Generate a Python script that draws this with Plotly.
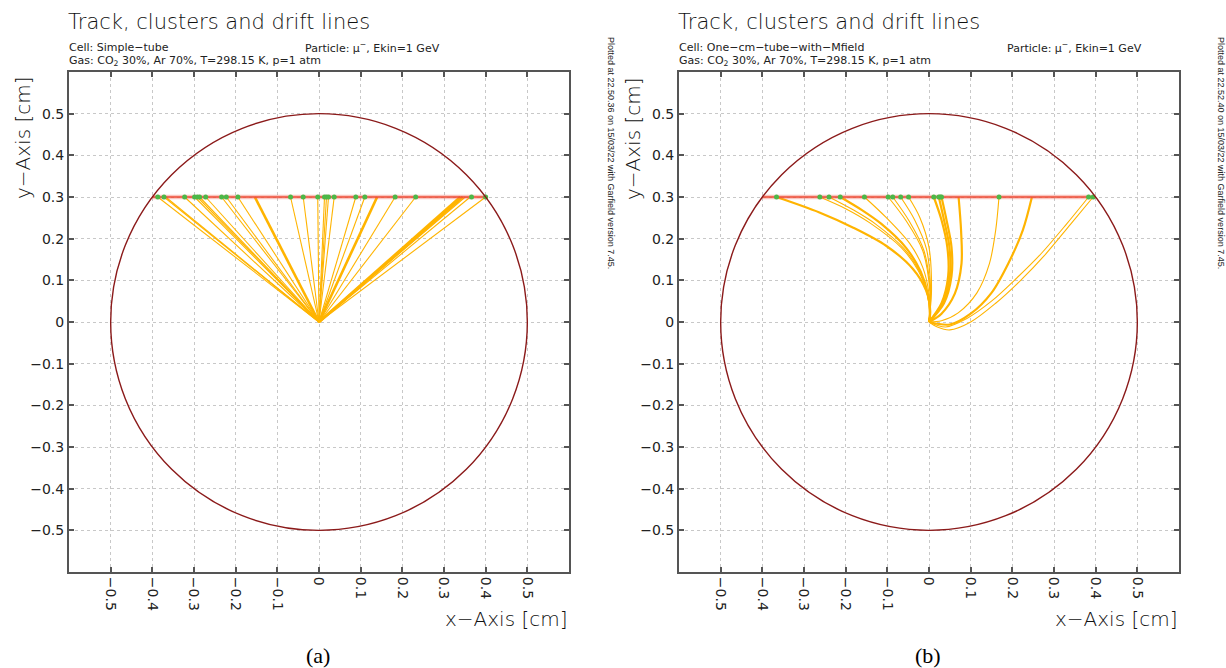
import plotly.graph_objects as go

# ---------------- data ----------------
tube_radius = 0.5
track_x = [-0.4, 0.4]
track_y = [0.3, 0.3]
wire_x = 0.0
wire_y = 0.0

tick_vals = [-0.5, -0.4, -0.3, -0.2, -0.1, 0.0, 0.1, 0.2, 0.3, 0.4, 0.5]
tick_text = ["\u22120.5", "\u22120.4", "\u22120.3", "\u22120.2", "\u22120.1", "0",
             "0.1", "0.2", "0.3", "0.4", "0.5"]

# (a) simple tube: cluster positions along the track and drift-line start points
clusters_a = [-0.387, -0.372, -0.3225, -0.2986, -0.292, -0.2866, -0.272, -0.2338,
              -0.2225, -0.1947, -0.0683, -0.0379, -0.003, 0.0132, 0.018, 0.0228,
              0.0365, 0.0883, 0.110, 0.1827, 0.232, 0.366, 0.400]
drift_thin_a = [-0.387, -0.372, -0.368, -0.3225, -0.2986, -0.292, -0.2866, -0.272,
                -0.2338, -0.2225, -0.1947, -0.0683, -0.0379, -0.003, 0.0132, 0.018,
                0.0228, 0.0365, 0.0883, 0.110, 0.1827, 0.232, 0.351, 0.363, 0.400]
drift_thick_a = [-0.154, 0.1395, 0.339, 0.345]

# (b) tube with magnetic field
clusters_b = [-0.366, -0.262, -0.240, -0.213, -0.155, -0.098, -0.087, -0.068,
              -0.049, 0.0115, 0.0235, 0.027, 0.030, 0.168, 0.383, 0.394]
drift_paths_b = [
    [(-0.366, 0.30), (-0.263, 0.263), (-0.183, 0.227), (-0.103, 0.183), (-0.039, 0.128), (-0.007, 0.076), (0.003, 0.025), (0.0, 0.0)],
    [(-0.262, 0.30), (-0.20, 0.272), (-0.142, 0.238), (-0.066, 0.178), (-0.025, 0.122), (-0.004, 0.066), (0.002, 0.02), (0.0, 0.0)],
    [(-0.240, 0.30), (-0.18, 0.268), (-0.128, 0.235), (-0.060, 0.176), (-0.022, 0.120), (-0.003, 0.064), (0.002, 0.02), (0.0, 0.0)],
    [(-0.213, 0.30), (-0.16, 0.268), (-0.115, 0.236), (-0.055, 0.178), (-0.020, 0.121), (-0.002, 0.064), (0.002, 0.02), (0.0, 0.0)],
    [(-0.155, 0.30), (-0.103, 0.251), (-0.046, 0.188), (-0.015, 0.131), (0.0, 0.068), (0.002, 0.02), (0.0, 0.0)],
    [(-0.098, 0.30), (-0.055, 0.243), (-0.015, 0.171), (0.002, 0.075), (0.002, 0.02), (0.0, 0.0)],
    [(-0.087, 0.30), (-0.048, 0.243), (-0.012, 0.171), (0.003, 0.075), (0.002, 0.02), (0.0, 0.0)],
    [(-0.068, 0.30), (-0.035, 0.246), (-0.006, 0.175), (0.004, 0.075), (0.002, 0.02), (0.0, 0.0)],
    [(-0.049, 0.30), (-0.022, 0.251), (0.0, 0.179), (0.006, 0.075), (0.002, 0.02), (0.0, 0.0)],
    [(0.0115, 0.30), (0.030, 0.245), (0.044, 0.180), (0.046, 0.11), (0.030, 0.045), (0.0, 0.0)],
    [(0.0235, 0.30), (0.036, 0.245), (0.049, 0.180), (0.050, 0.11), (0.033, 0.045), (0.0, 0.0)],
    [(0.030, 0.30), (0.042, 0.245), (0.054, 0.180), (0.054, 0.11), (0.036, 0.045), (0.0, 0.0)],
    [(0.071, 0.30), (0.077, 0.219), (0.078, 0.140), (0.062, 0.068), (0.030, 0.020), (0.0, 0.0)],
    [(0.168, 0.30), (0.160, 0.22), (0.145, 0.14), (0.115, 0.07), (0.07, 0.022), (0.03, 0.003), (0.0, 0.0)],
    [(0.247, 0.30), (0.225, 0.22), (0.19, 0.14), (0.15, 0.07), (0.10, 0.02), (0.05, -0.006), (0.0, 0.0)],
    [(0.383, 0.30), (0.33, 0.235), (0.27, 0.165), (0.21, 0.105), (0.15, 0.05), (0.09, 0.008), (0.04, -0.012), (0.0, 0.0)],
    [(0.394, 0.30), (0.34, 0.235), (0.28, 0.163), (0.22, 0.100), (0.16, 0.045), (0.10, 0.000), (0.05, -0.019), (0.02, -0.012), (0.0, 0.0)],
]
drift_thick_b = [True, False, False, True, False, False, False, False, False,
                 True, True, True, True, False, True, False, False]

cell_a = "Simple\u2212tube"
cell_b = "One\u2212cm\u2212tube\u2212with\u2212Mfield"
stamp_a = "Plotted at 22.50.36 on 15/03/22 with Garfield version 7.45."
stamp_b = "Plotted at 22.52.40 on 15/03/22 with Garfield version 7.45."

# ---------------- styles ----------------
W, H = 1226, 668
DRIFT = "#FFB400"
TRACK = "#EE4B36"
CLUSTER = "#4CB848"
CIRCLE = "#8B1A1A"
FRAME = "#555555"
FONT = "DejaVu Sans"

fig = go.Figure()


def add_panel(xa, ya, clusters, straight_thin, straight_thick, paths, thick_flags):
    if paths is None:
        for starts, w in ((straight_thin, 1.1), (straight_thick, 2.6)):
            xs, ys = [], []
            for s in starts:
                xs += [s, wire_x, None]
                ys += [track_y[0], wire_y, None]
            fig.add_trace(go.Scatter(x=xs, y=ys, mode="lines", xaxis=xa, yaxis=ya,
                                     line=dict(color=DRIFT, width=w), hoverinfo="skip",
                                     showlegend=False))
    else:
        for p, thick in zip(paths, thick_flags):
            fig.add_trace(go.Scatter(x=[q[0] for q in p], y=[q[1] for q in p], mode="lines",
                                     xaxis=xa, yaxis=ya,
                                     line=dict(color=DRIFT, width=2.2 if thick else 1.1,
                                               shape="spline", smoothing=0.9),
                                     hoverinfo="skip", showlegend=False))
    fig.add_trace(go.Scatter(x=track_x, y=track_y, mode="lines", xaxis=xa, yaxis=ya,
                             line=dict(color="rgba(240,90,70,0.35)", width=4.5),
                             hoverinfo="skip", showlegend=False))
    fig.add_trace(go.Scatter(x=track_x, y=track_y, mode="lines", xaxis=xa, yaxis=ya,
                             line=dict(color=TRACK, width=1.3),
                             hoverinfo="skip", showlegend=False))
    fig.add_trace(go.Scatter(x=clusters, y=[track_y[0]] * len(clusters), mode="markers",
                             xaxis=xa, yaxis=ya,
                             marker=dict(color=CLUSTER, size=5, line=dict(width=0)),
                             hoverinfo="skip", showlegend=False))
    fig.add_shape(type="circle", xref=xa, yref=ya, x0=-tube_radius, y0=-tube_radius,
                  x1=tube_radius, y1=tube_radius, line=dict(color=CIRCLE, width=1.4))


add_panel("x", "y", clusters_a, drift_thin_a, drift_thick_a, None, None)
add_panel("x2", "y2", clusters_b, None, None, drift_paths_b, drift_thick_b)

ax_common = dict(range=[-0.6, 0.6], tickvals=tick_vals, ticktext=tick_text,
                 showgrid=True, gridcolor="#c8c8c8", griddash="dot", gridwidth=1,
                 zeroline=False, showline=True, linecolor=FRAME, linewidth=2,
                 mirror="ticks", ticks="inside", ticklen=5, tickcolor=FRAME, tickwidth=1.5,
                 tickfont=dict(family=FONT, size=14, color="#222"), fixedrange=True)

yd = [1 - 572 / H, 1 - 72 / H]
fig.update_layout(
    width=W, height=H, autosize=False,
    margin=dict(l=0, r=0, t=0, b=0),
    paper_bgcolor="white", plot_bgcolor="white",
    xaxis=dict(domain=[69 / W, 569 / W], anchor="y", tickangle=90, **ax_common),
    yaxis=dict(domain=yd, anchor="x", **ax_common),
    xaxis2=dict(domain=[679 / W, 1179 / W], anchor="y2", tickangle=90, **ax_common),
    yaxis2=dict(domain=yd, anchor="x2", **ax_common),
)

ann = []


def txt(x, y, text, size, xanchor="left", yanchor="middle", angle=0, family=FONT,
        color="#222", weight=None):
    f = dict(family=family, size=size, color=color)
    if weight is not None:
        f["weight"] = weight
    ann.append(dict(x=x / W, y=1 - y / H, xref="paper", yref="paper", text=text,
                    showarrow=False, xanchor=xanchor, yanchor=yanchor, textangle=angle,
                    font=f))


for off, cell, px, stamp, cap in ((0, cell_a, 303, stamp_a, "(a)"),
                                  (610, cell_b, 1005, stamp_b, "(b)")):
    txt(66 + off, 22, "Track, clusters and drift lines", 21, weight=200, color="#111")
    txt(67 + off, 47, "Cell: " + cell, 11)
    txt(px, 47, "Particle: \u03bc<sup>\u2212</sup>, Ekin=1 GeV", 11)
    txt(67 + off, 61, "Gas: CO<sub>2</sub> 30%, Ar 70%, T=298.15 K, p=1 atm", 11)
    txt(23 + off, 138, "y\u2212Axis [cm]", 20, xanchor="center", angle=-90, weight=200,
        color="#111")
    txt(570 + off, 619, "x\u2212Axis [cm]", 20, xanchor="right", weight=200, color="#111")
    txt(611 + off, 35, stamp, 9, xanchor="center", yanchor="top", angle=90,
        family="Liberation Sans")
    txt(318 + off, 655, cap, 22, xanchor="center", family="Liberation Serif", color="#000")

fig.update_layout(annotations=ann)
fig.write_html("out.html", config={"displayModeBar": False},
               post_script="document.body.style.margin='0';document.body.style.padding='0';")
